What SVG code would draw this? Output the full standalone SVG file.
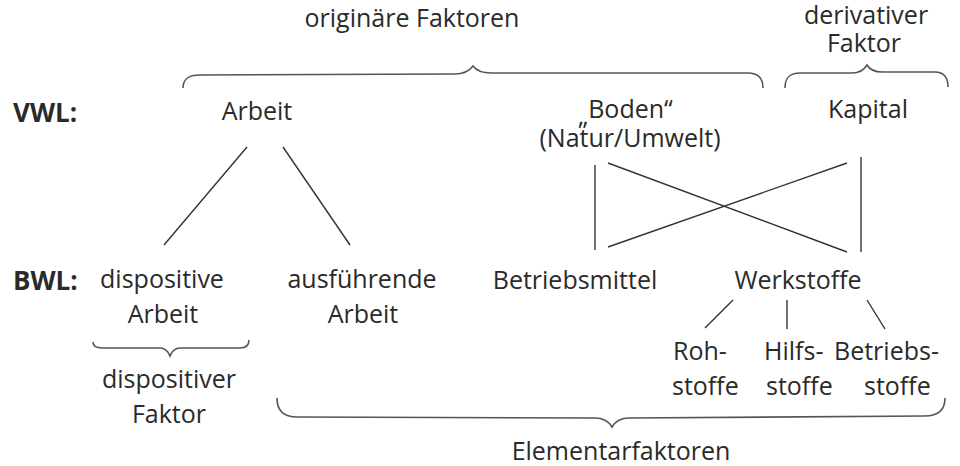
<svg xmlns="http://www.w3.org/2000/svg" width="960" height="466" viewBox="0 0 960 466">
<style>
text{font-family:"Open Sans","Noto Sans","Liberation Sans",sans-serif;font-size:25px;fill:#2a2a2a}
.c{text-anchor:middle}
.b{font-weight:bold;font-size:26px}
.ln{stroke:#333;stroke-width:1.4;fill:none}
.br{stroke:#555;stroke-width:1.6;fill:none}
</style>
<rect width="960" height="466" fill="#fff"/>
<g id="labels">
<text x="13" y="122" class="b">VWL:</text>
<text x="13" y="290" class="b">BWL:</text>
</g>
<g id="originaere">
<text x="412" y="27" class="c">originäre Faktoren</text>
<path class="br" d="M183,88 C183,79 188,75 200,75 L455,74 C465,74 470,70 473,66 C476,70 481,73 491,73 L748,73 C758,73 763,78 763,88"/>
</g>
<g id="derivativ">
<text x="866" y="24" class="c">derivativer</text>
<text x="864" y="52" class="c">Faktor</text>
<path class="br" d="M785,88 C785,78 789,73 800,73 L852,73 C860,73 864,70 867,65 C870,70 874,72 882,72 L935,72 C944,72 948,77 948,87"/>
</g>
<g id="arbeit"><text x="257" y="120" class="c">Arbeit</text></g>
<g id="boden">
<text x="578" y="118"><tspan dy="7">„</tspan><tspan dy="-7">Boden“</tspan></text>
<text x="630" y="147" class="c">(Natur/Umwelt)</text>
</g>
<g id="kapital"><text x="868" y="118" class="c">Kapital</text></g>
<g id="dispArbeit">
<text x="162" y="288" class="c">dispositive</text>
<text x="163" y="323" class="c">Arbeit</text>
</g>
<g id="ausfArbeit">
<text x="362" y="288" class="c">ausführende</text>
<text x="363" y="323" class="c">Arbeit</text>
</g>
<g id="betriebsmittel"><text x="575" y="289" class="c">Betriebsmittel</text></g>
<g id="werkstoffe"><text x="798" y="289" class="c">Werkstoffe</text></g>
<g id="roh">
<text x="673" y="360">Roh-</text>
<text x="672" y="395">stoffe</text>
</g>
<g id="hilfs">
<text x="764" y="360">Hilfs-</text>
<text x="766" y="395">stoffe</text>
</g>
<g id="betriebsstoffe">
<text x="834" y="360">Betriebs-</text>
<text x="864" y="395">stoffe</text>
</g>
<g id="dispFaktor">
<path class="br" d="M93,342 C93,346 96,348 102,348 L160,348 C165,348 168,351 170,356 C172,351 175,348 180,348 L240,348 C246,348 249,345 249,340"/>
<text x="169" y="388" class="c">dispositiver</text>
<text x="169" y="423" class="c">Faktor</text>
</g>
<g id="elementar">
<path class="br" d="M277,398 C277,410 283,417 297,417 L595,418 C604,418 609,422 612,427 C615,422 620,418 629,418 L925,416 C939,416 945,410 945,398"/>
<text x="621" y="460" class="c">Elementarfaktoren</text>
</g>
<g id="connectors">
<line class="ln" x1="247" y1="147" x2="164" y2="245"/>
<line class="ln" x1="283" y1="147" x2="350" y2="245"/>
<line class="ln" x1="595" y1="165" x2="595" y2="250"/>
<line class="ln" x1="861" y1="157" x2="861" y2="252"/>
<line class="ln" x1="608" y1="163" x2="847" y2="252"/>
<line class="ln" x1="847" y1="163" x2="608" y2="247"/>
<line class="ln" x1="733" y1="300" x2="705" y2="328"/>
<line class="ln" x1="787" y1="300" x2="787" y2="329"/>
<line class="ln" x1="867" y1="300" x2="885" y2="329"/>
</g>
</svg>
